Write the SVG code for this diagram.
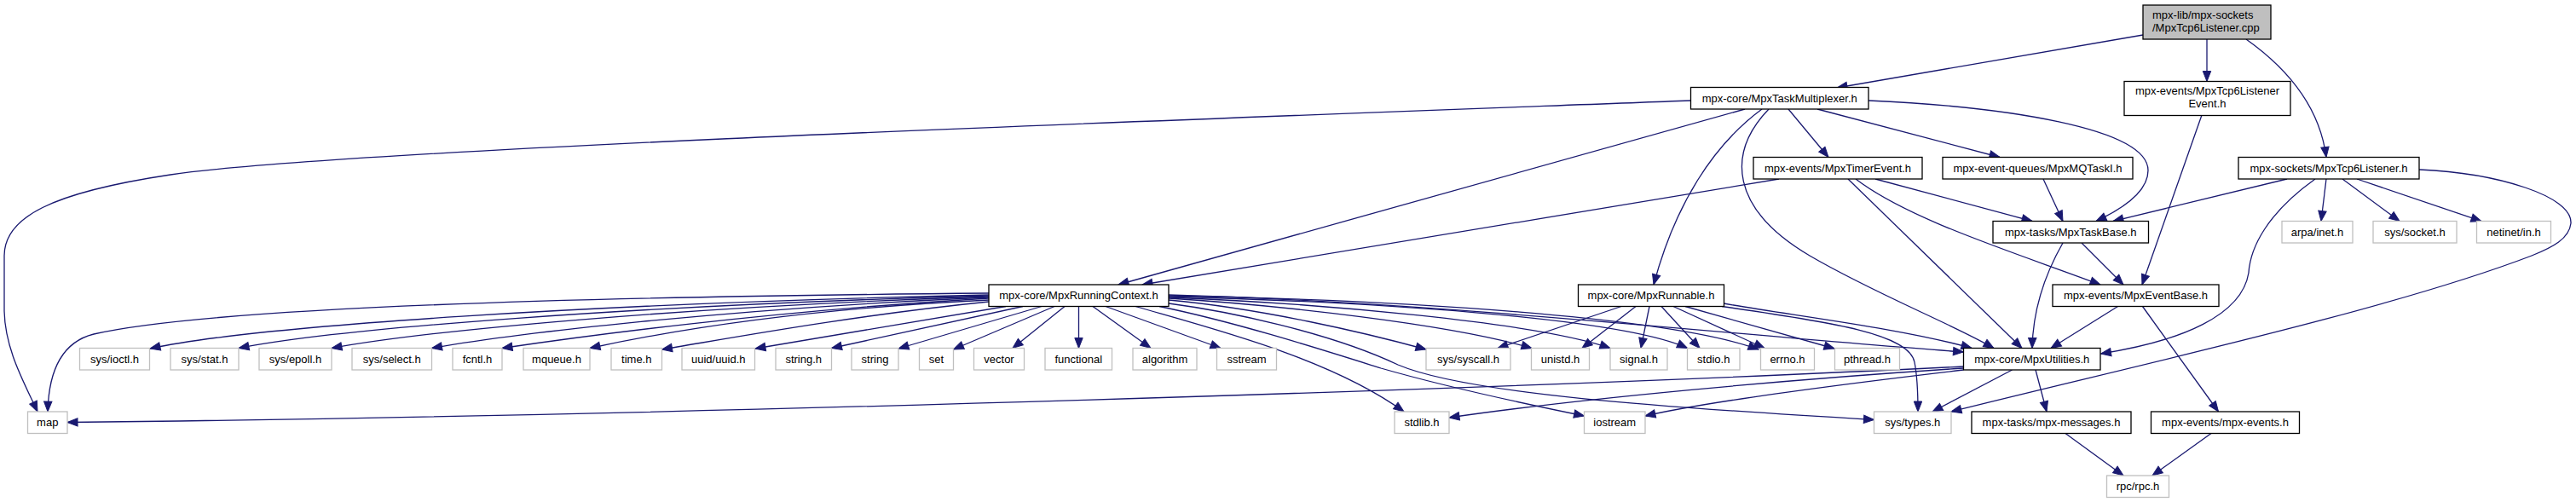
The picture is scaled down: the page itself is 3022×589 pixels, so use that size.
<svg xmlns="http://www.w3.org/2000/svg" width="3022" height="589" viewBox="0 0 3022 589">
<style>
rect{fill:#fff;stroke:#000;stroke-width:1.3}
.x rect{stroke:#bfbfbf}
.r rect{fill:#bfbfbf}
text{font-family:"Liberation Sans",Arial,Helvetica,sans-serif;font-size:13px;fill:#000;text-anchor:middle}
.e path{fill:none;stroke:#191970;stroke-width:1.3;marker-end:url(#a)}
</style>
<defs>
<marker id="a" markerUnits="userSpaceOnUse" markerWidth="14" markerHeight="11" refX="12" refY="4.7" orient="auto" overflow="visible">
<path d="M0,0 L12,4.7 L0,9.4 Z" fill="#191970" stroke="#191970" stroke-width="1"/>
</marker>
</defs>
<rect x="0" y="0" width="3022" height="589" style="fill:#fff;stroke:none"/>
<g class="e" id="edges">
<path d="M2514,41 L2155,103"/>
<path d="M2589,46 L2589,95.5"/>
<path d="M2635,46 C2690,85 2722,130 2729,184.5"/>
<path d="M1983.5,118 C1400,140 400,175 200,205 C60,226 5,255 5,300 L5,365 C6,410 28,448 44,483"/>
<path d="M2047,128 L1312,334"/>
<path d="M2067,128 C2010,170 1965,240 1940,334"/>
<path d="M2098,128 L2145,184.5"/>
<path d="M2132,128 L2346,184.5"/>
<path d="M2192,118 C2350,125 2520,150 2520,200 C2520,225 2490,245 2459,259.5"/>
<path d="M2075,128 C2025,180 2030,245 2123,300 C2200,345 2290,380 2339,408.5"/>
<path d="M2087,210 L1340,334"/>
<path d="M2200,210 L2384,259.5"/>
<path d="M2177,210 C2240,258 2360,295 2464,334"/>
<path d="M2168,210 L2372,408.5"/>
<path d="M2397,210 L2420,259.5"/>
<path d="M2683,210 L2479,259.5"/>
<path d="M2716,210 C2660,250 2640,290 2638,320 C2630,370 2560,400 2464.5,415"/>
<path d="M2729,210 L2723,259.5"/>
<path d="M2748,210 L2815,259.5"/>
<path d="M2765,210 L2911,259.5"/>
<path d="M2838,199 C2930,203 3018,230 3016,262 C3014,280 2995,290 2970,300 C2800,365 2500,430 2289,483"/>
<path d="M2583,135 L2513,334"/>
<path d="M2442,285 L2491,334"/>
<path d="M2420,285 C2400,320 2385,360 2384,408.5"/>
<path d="M2484.5,359.5 L2406,408.5"/>
<path d="M2513.5,359.5 L2602.5,483"/>
<path d="M2360.5,434 L2267,483"/>
<path d="M2388,434 L2401,483"/>
<path d="M2303.5,430 C1800,455 800,488 79,495.5"/>
<path d="M2303.5,432 C2100,445 1850,468 1700,490"/>
<path d="M2303.5,434 C2150,452 2000,472 1930,488"/>
<path d="M2423,508.5 L2491,558"/>
<path d="M2594,508.5 L2525,558"/>
<path d="M1902,359.5 L1757,408.5"/>
<path d="M1919,359.5 L1856,408.5"/>
<path d="M1935,359.5 L1925,408.5"/>
<path d="M1949,359.5 L1994,408.5"/>
<path d="M1963,359.5 L2070,408.5"/>
<path d="M1977,359.5 L2152,409"/>
<path d="M2022,356 C2100,370 2230,385 2313,408.5"/>
<path d="M2020,359.5 C2150,378 2240,392 2246,425 C2250,445 2250,465 2250,483"/>
<path d="M1371,352 C1480,362 1600,390 1673,410"/>
<path d="M1371,350 C1500,358 1700,380 1797,408.5"/>
<path d="M1371,349 C1550,356 1800,378 1889,408.5"/>
<path d="M1371,348 C1600,354 1900,372 1979.5,408.5"/>
<path d="M1371,347 C1650,352 1960,372 2063,410"/>
<path d="M1371,346 C1700,355 2050,395 2303.5,413"/>
<path d="M1332,359.5 C1420,385 1560,420 1647,483"/>
<path d="M1360,359.5 C1450,378 1550,410 1620,432 C1700,455 1780,472 1858.5,488"/>
<path d="M1371,356 C1440,365 1560,390 1640,428 C1720,462 1950,478 2198.5,492.5"/>
<path d="M1180,359.5 L886,409"/>
<path d="M1200,359.5 L975.5,408.5"/>
<path d="M1222,359.5 L1054,409"/>
<path d="M1237,359.5 L1118.5,410"/>
<path d="M1249,359.5 L1188,408.5"/>
<path d="M1265.5,359.5 L1265.5,408.5"/>
<path d="M1282,359.5 L1350,408.5"/>
<path d="M1297,359.5 L1432,408.5"/>
<path d="M1160,344 C700,348 250,360 110,392 C70,402 57,440 56,483"/>
<path d="M1160,346 C700,356 300,382 176,409"/>
<path d="M1160,347 C750,358 400,385 280,408.5"/>
<path d="M1160,348 C800,360 500,388 389,408.5"/>
<path d="M1160,349 C850,362 600,392 506.5,408.5"/>
<path d="M1160,350 C900,365 680,395 589,408.5"/>
<path d="M1160,352 C950,362 800,385 692,408.5"/>
<path d="M1160,354 C1000,370 850,398 776.5,410"/>
</g>
<g id="n_root" class="r"><rect x="2514" y="6" width="150" height="40"/><text x="2525" y="21.5" style="text-anchor:start">mpx-lib/mpx-sockets</text><text x="2525" y="36.5" style="text-anchor:start">/MpxTcp6Listener.cpp</text></g>
<g id="n_taskmux"><rect x="1983.5" y="102.5" width="208.5" height="25.5"/><text x="2087.75" y="119.75">mpx-core/MpxTaskMultiplexer.h</text></g>
<g id="n_tcp6evt"><rect x="2492" y="95.5" width="195" height="40"/><text x="2589.5" y="110.8">mpx-events/MpxTcp6Listener</text><text x="2589.5" y="125.8">Event.h</text></g>
<g id="n_timer"><rect x="2057" y="184.5" width="198" height="25.5"/><text x="2156" y="201.75">mpx-events/MpxTimerEvent.h</text></g>
<g id="n_mqtask"><rect x="2279" y="184.5" width="223" height="25.5"/><text x="2390.5" y="201.75">mpx-event-queues/MpxMQTaskI.h</text></g>
<g id="n_tcp6l"><rect x="2626" y="184.5" width="212" height="25.5"/><text x="2732" y="201.75">mpx-sockets/MpxTcp6Listener.h</text></g>
<g id="n_taskbase"><rect x="2338" y="259.5" width="182.5" height="25.5"/><text x="2429.25" y="276.75">mpx-tasks/MpxTaskBase.h</text></g>
<g id="n_inet" class="x"><rect x="2677" y="259.5" width="83" height="25.5"/><text x="2718.5" y="276.75">arpa/inet.h</text></g>
<g id="n_socket" class="x"><rect x="2784" y="259.5" width="98" height="25.5"/><text x="2833" y="276.75">sys/socket.h</text></g>
<g id="n_netin" class="x"><rect x="2905.5" y="259.5" width="87" height="25.5"/><text x="2949" y="276.75">netinet/in.h</text></g>
<g id="n_runctx"><rect x="1160" y="334" width="211" height="25.5"/><text x="1265.5" y="351.25">mpx-core/MpxRunningContext.h</text></g>
<g id="n_runnable"><rect x="1851.5" y="334" width="171" height="25.5"/><text x="1937" y="351.25">mpx-core/MpxRunnable.h</text></g>
<g id="n_eventbase"><rect x="2408" y="334" width="195" height="25.5"/><text x="2505.5" y="351.25">mpx-events/MpxEventBase.h</text></g>
<g id="n_ioctl" class="x"><rect x="93.5" y="408.5" width="82" height="25.5"/><text x="134.5" y="425.75">sys/ioctl.h</text></g>
<g id="n_stat" class="x"><rect x="200" y="408.5" width="80" height="25.5"/><text x="240" y="425.75">sys/stat.h</text></g>
<g id="n_epoll" class="x"><rect x="304" y="408.5" width="85" height="25.5"/><text x="346.5" y="425.75">sys/epoll.h</text></g>
<g id="n_select" class="x"><rect x="413" y="408.5" width="93.5" height="25.5"/><text x="459.75" y="425.75">sys/select.h</text></g>
<g id="n_fcntl" class="x"><rect x="531" y="408.5" width="58" height="25.5"/><text x="560" y="425.75">fcntl.h</text></g>
<g id="n_mqueue" class="x"><rect x="614" y="408.5" width="78" height="25.5"/><text x="653" y="425.75">mqueue.h</text></g>
<g id="n_time" class="x"><rect x="717" y="408.5" width="59.5" height="25.5"/><text x="746.75" y="425.75">time.h</text></g>
<g id="n_uuid" class="x"><rect x="800" y="408.5" width="85.5" height="25.5"/><text x="842.75" y="425.75">uuid/uuid.h</text></g>
<g id="n_stringh" class="x"><rect x="910" y="408.5" width="65.5" height="25.5"/><text x="942.75" y="425.75">string.h</text></g>
<g id="n_string" class="x"><rect x="999" y="408.5" width="55" height="25.5"/><text x="1026.5" y="425.75">string</text></g>
<g id="n_set" class="x"><rect x="1078.5" y="408.5" width="40" height="25.5"/><text x="1098.5" y="425.75">set</text></g>
<g id="n_vector" class="x"><rect x="1142.5" y="408.5" width="59" height="25.5"/><text x="1172" y="425.75">vector</text></g>
<g id="n_functional" class="x"><rect x="1226" y="408.5" width="78.5" height="25.5"/><text x="1265.25" y="425.75">functional</text></g>
<g id="n_algorithm" class="x"><rect x="1329" y="408.5" width="75" height="25.5"/><text x="1366.5" y="425.75">algorithm</text></g>
<g id="n_sstream" class="x"><rect x="1427.5" y="408.5" width="70" height="25.5"/><text x="1462.5" y="425.75">sstream</text></g>
<g id="n_syscall" class="x"><rect x="1673" y="408.5" width="99" height="25.5"/><text x="1722.5" y="425.75">sys/syscall.h</text></g>
<g id="n_unistd" class="x"><rect x="1796.5" y="408.5" width="68" height="25.5"/><text x="1830.5" y="425.75">unistd.h</text></g>
<g id="n_signal" class="x"><rect x="1889" y="408.5" width="67" height="25.5"/><text x="1922.5" y="425.75">signal.h</text></g>
<g id="n_stdio" class="x"><rect x="1979.5" y="408.5" width="61.5" height="25.5"/><text x="2010.25" y="425.75">stdio.h</text></g>
<g id="n_errno" class="x"><rect x="2065.5" y="408.5" width="63" height="25.5"/><text x="2097" y="425.75">errno.h</text></g>
<g id="n_pthread" class="x"><rect x="2152.5" y="408.5" width="76" height="25.5"/><text x="2190.5" y="425.75">pthread.h</text></g>
<g id="n_utilities"><rect x="2303.5" y="408.5" width="160.5" height="25.5"/><text x="2383.75" y="425.75">mpx-core/MpxUtilities.h</text></g>
<g id="n_map" class="x"><rect x="32.5" y="483" width="46.5" height="25.5"/><text x="55.75" y="500.25">map</text></g>
<g id="n_stdlib" class="x"><rect x="1636" y="483" width="64" height="25.5"/><text x="1668" y="500.25">stdlib.h</text></g>
<g id="n_iostream" class="x"><rect x="1858.5" y="483" width="71.5" height="25.5"/><text x="1894.25" y="500.25">iostream</text></g>
<g id="n_types" class="x"><rect x="2198.5" y="483" width="90.5" height="25.5"/><text x="2243.75" y="500.25">sys/types.h</text></g>
<g id="n_messages"><rect x="2313" y="483" width="187" height="25.5"/><text x="2406.5" y="500.25">mpx-tasks/mpx-messages.h</text></g>
<g id="n_events"><rect x="2523.5" y="483" width="174" height="25.5"/><text x="2610.5" y="500.25">mpx-events/mpx-events.h</text></g>
<g id="n_rpc" class="x"><rect x="2471.5" y="558" width="73" height="25.5"/><text x="2508" y="575.25">rpc/rpc.h</text></g>
</svg>
